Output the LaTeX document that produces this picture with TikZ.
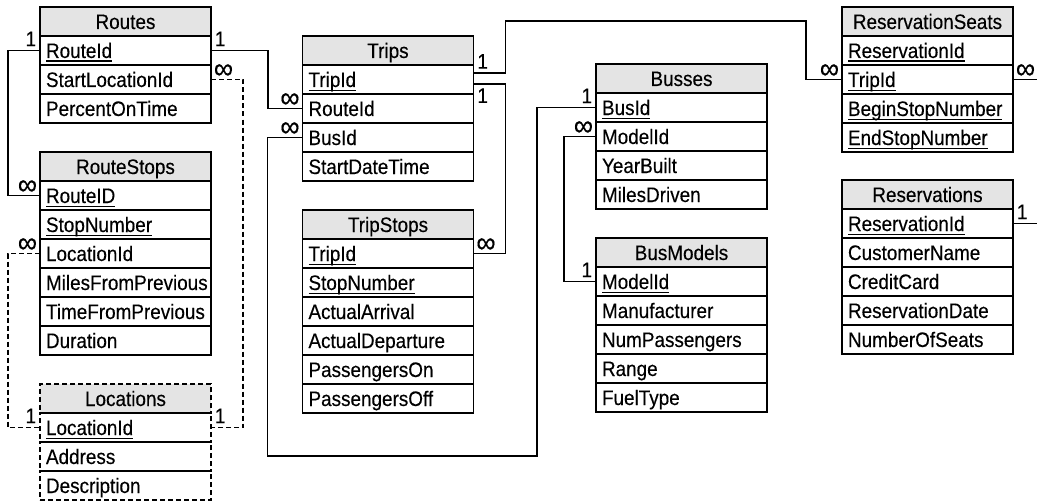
\documentclass[tikz,border=0pt]{standalone}
\usepackage{fontspec}
\setmainfont{Liberation Sans}[FakeStretch=0.9, FakeBold=0.3]
\usetikzlibrary{positioning}
\definecolor{hdrgray}{HTML}{E4E4E4}
% key fields: underline at a fixed depth, crossing the descenders
\newcommand{\keyname}[1]{\setbox0=\hbox{#1}\rlap{\rule[-3.6pt]{\wd0}{1.1pt}}\box0}

\begin{document}
\begin{tikzpicture}[x=1pt, y=-1pt, font=\fontsize{21}{24}\selectfont,
  hdr/.style={rectangle, draw, line width=1.2pt, fill=hdrgray, minimum width=171pt,
              minimum height=29pt, inner sep=0pt, text height=15pt, text depth=0pt, outer sep=0pt},
  fld/.style={rectangle, draw, line width=1.2pt, minimum height=29pt, text width=159pt,
              inner xsep=6pt, inner ysep=0pt, align=left, text height=15pt, text depth=0pt, outer sep=0pt},
  rel/.style={line width=1.8pt},
  dashline/.style={dash pattern=on 5pt off 3pt},
  card/.style={inner xsep=3pt, inner ysep=3.5pt},
  many/.style={inner xsep=2pt, inner ysep=0pt, font=\fontsize{30}{30}\selectfont}]
  \useasboundingbox (0,0) rectangle (1037,503);

  % Tables
  \node[hdr] (routes) at (125.5,21.5) {Routes};
  \foreach \f [count=\i] in {\keyname{RouteId}, StartLocationId, PercentOnTime}
    \node[fld] (routes-\i) at (125.5,21.5+29*\i) {\f};

  \node[hdr] (rstops) at (125.5,166.5) {RouteStops};
  \foreach \f [count=\i] in {\keyname{RouteID}, \keyname{StopNumber}, LocationId,
                              MilesFromPrevious, TimeFromPrevious, Duration}
    \node[fld] (rstops-\i) at (125.5,166.5+29*\i) {\f};

  \node[hdr, dashline] (locs) at (125.5,398.5) {Locations};
  \foreach \f [count=\i] in {\keyname{LocationId}, Address, Description}
    \node[fld, dashline] (locs-\i) at (125.5,398.5+29*\i) {\f};
  \foreach \i in {1,2,3}
    \draw[line width=1.2pt] (locs-\i.north west) -- (locs-\i.north east);

  \node[hdr] (trips) at (388,50.5) {Trips};
  \foreach \f [count=\i] in {\keyname{TripId}, RouteId, BusId, StartDateTime}
    \node[fld] (trips-\i) at (388,50.5+29*\i) {\f};

  \node[hdr] (tstops) at (388,224.5) {TripStops};
  \foreach \f [count=\i] in {\keyname{TripId}, \keyname{StopNumber}, ActualArrival,
                              ActualDeparture, PassengersOn, PassengersOff}
    \node[fld] (tstops-\i) at (388,224.5+29*\i) {\f};

  \node[hdr] (busses) at (681.5,78.5) {Busses};
  \foreach \f [count=\i] in {\keyname{BusId}, ModelId, YearBuilt, MilesDriven}
    \node[fld] (busses-\i) at (681.5,78.5+29*\i) {\f};

  \node[hdr] (bmodels) at (681.5,252.5) {BusModels};
  \foreach \f [count=\i] in {\keyname{ModelId}, Manufacturer, NumPassengers, Range, FuelType}
    \node[fld] (bmodels-\i) at (681.5,252.5+29*\i) {\f};

  \node[hdr] (rseats) at (927.5,21.5) {ReservationSeats};
  \foreach \f [count=\i] in {\keyname{ReservationId}, \keyname{TripId},
                              \keyname{BeginStopNumber}, \keyname{EndStopNumber}}
    \node[fld] (rseats-\i) at (927.5,21.5+29*\i) {\f};

  \node[hdr] (res) at (927.5,194.5) {Reservations};
  \foreach \f [count=\i] in {\keyname{ReservationId}, CustomerName, CreditCard,
                              ReservationDate, NumberOfSeats}
    \node[fld] (res-\i) at (927.5,194.5+29*\i) {\f};

  % Relationships
  \draw[rel] (routes-1.west) node[card, above left] {1} -- ++(-32,0)
    |- (rstops-1.west) node[many, above left] {∞};
  \draw[rel] (routes-1.east) node[card, above right] {1} -- ++(57,0)
    |- (trips-2.west) node[many, above left] {∞};
  \draw[rel, dashline] (routes-2.east) node[many, above right] {∞} -- ++(32,0)
    |- (locs-1.east) node[card, above right] {1};
  \draw[rel, dashline] (rstops-3.west) node[many, above left] {∞} -- ++(-32,0)
    |- (locs-1.west) node[card, above left] {1};

  \coordinate (busturn) at (537,456);
  \draw[rel] (trips-3.west) node[many, above left] {∞} -- ++(-35,0)
    |- (busturn) |- (busses-1.west) node[card, above left] {1};
  \draw[rel] ([yshift=6.5pt]trips-1.east) node[card, above right] {1} -- ++(32,0) -- ++(0,-52)
    -| ([xshift=-36pt]rseats-2.west) -- (rseats-2.west) node[many, above left] {∞};
  \draw[rel] ([yshift=-4.5pt]trips-1.east) node[card, below right] {1} -- ++(32,0)
    |- (tstops-1.east) node[many, above right] {∞};
  \draw[rel] (busses-2.west) node[many, above left] {∞} -- ++(-32,0)
    |- (bmodels-1.west) node[card, above left] {1};

  \draw[rel] (rseats-2.east) node[many, above right] {∞} -- ++(24,0);
  \draw[rel] (res-1.east) node[card, above right] {1} -- ++(24,0);
\end{tikzpicture}
\end{document}
